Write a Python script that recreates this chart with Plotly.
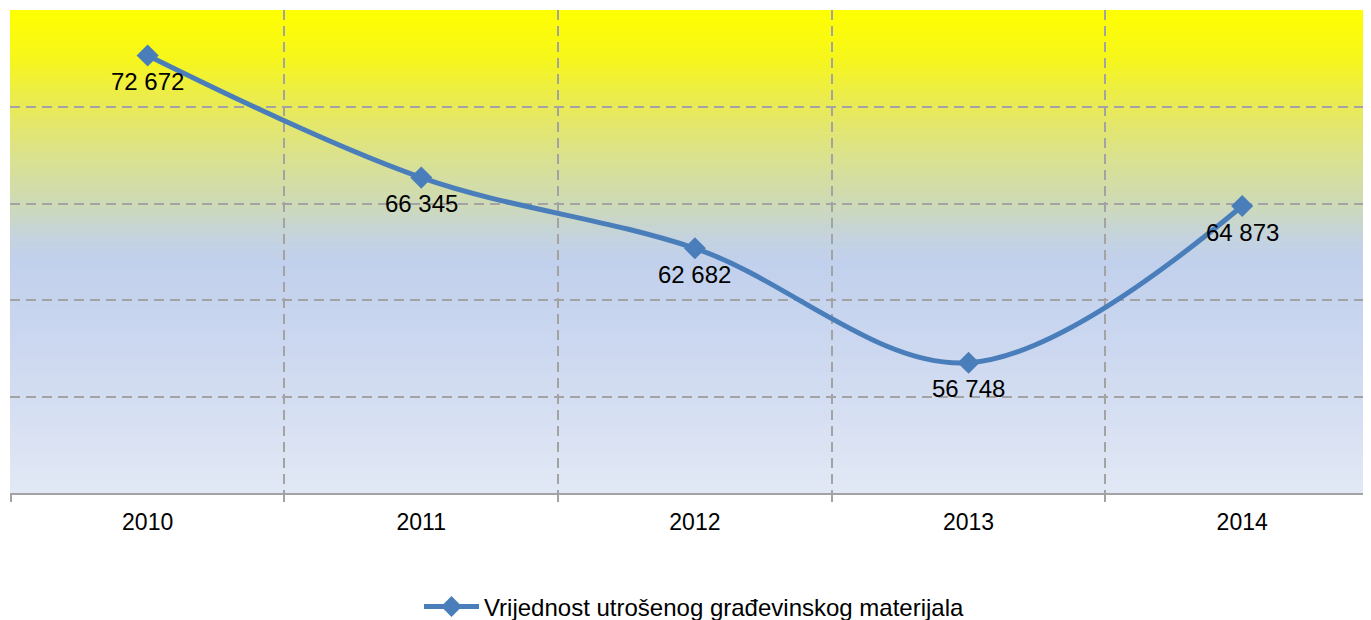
import plotly.graph_objects as go

years = ["2010", "2011", "2012", "2013", "2014"]
values = [72672, 66345, 62682, 56748, 64873]
series_name = "Vrijednost utrošenog građevinskog materijala"
labels = [f"{v:,}".replace(",", " ") for v in values]

# background gradient stops (fraction from top, rgb)
grad_stops = [
    (0.00, (255, 255, 0)),
    (0.10, (246, 246, 28)),
    (0.20, (233, 234, 88)),
    (0.30, (219, 226, 140)),
    (0.40, (206, 218, 182)),
    (0.47, (196, 211, 222)),
    (0.52, (193, 208, 236)),
    (0.70, (204, 216, 240)),
    (1.00, (226, 232, 245)),
]

def grad_color(f):
    for (f0, c0), (f1, c1) in zip(grad_stops[:-1], grad_stops[1:]):
        if f0 <= f <= f1:
            t = (f - f0) / (f1 - f0) if f1 > f0 else 0
            return "rgb(%d,%d,%d)" % tuple(round(a + (b - a) * t) for a, b in zip(c0, c1))
    return "rgb(%d,%d,%d)" % grad_stops[-1][1]

n = 160
shapes = []
for i in range(n):
    f = (i + 0.5) / n
    shapes.append(dict(type="rect", xref="paper", yref="paper",
                       x0=0, x1=1, y0=max(0, 1 - (i + 1) / n - 0.004), y1=1 - i / n,
                       fillcolor=grad_color(f), line=dict(width=0), layer="below"))

fig = go.Figure()
fig.add_trace(go.Scatter(
    x=years, y=values, name=series_name,
    mode="lines+markers",
    line=dict(color="#4A7EBB", width=5, shape="spline", smoothing=1.0),
    marker=dict(symbol="diamond", size=17, color="#4A7EBB"),
))

# category axis annotations use the category index
for idx, (v, lab) in enumerate(zip(values, labels)):
    fig.add_annotation(x=idx, y=v, text=lab, showarrow=False, yshift=-26,
                       font=dict(family="Liberation Sans, Arial", size=24, color="black"))

grid_dash = "10px,6px"

fig.update_layout(
    width=1371, height=620,
    margin=dict(l=2, r=0, t=2, b=135, autoexpand=False),
    paper_bgcolor="white",
    plot_bgcolor="rgba(0,0,0,0)",
    shapes=shapes,
    font=dict(family="Liberation Sans, Arial", size=24, color="black"),
    showlegend=True,
    legend=dict(orientation="h", x=0.5, xanchor="center",
                yref="container", y=0.034, yanchor="middle",
                font=dict(size=24), itemwidth=55, bgcolor="rgba(0,0,0,0)"),
    xaxis=dict(type="category", range=[-0.503, 4.5], tickson="boundaries",
               showgrid=True, gridcolor="#A3A3A3", griddash=grid_dash, gridwidth=2,
               ticks="outside", ticklen=7, tickcolor="#A3A3A3", tickwidth=2,
               ticklabelstandoff=7,
               showline=True, linecolor="#A3A3A3", linewidth=2,
               tickfont=dict(size=23), fixedrange=True, automargin=False),
    yaxis=dict(range=[50000, 75030], dtick=5000, showticklabels=False,
               showgrid=True, gridcolor="#A3A3A3", griddash=grid_dash, gridwidth=2,
               zeroline=False, showline=False, ticks="", automargin=False),
)

fig.write_html("out.html")
